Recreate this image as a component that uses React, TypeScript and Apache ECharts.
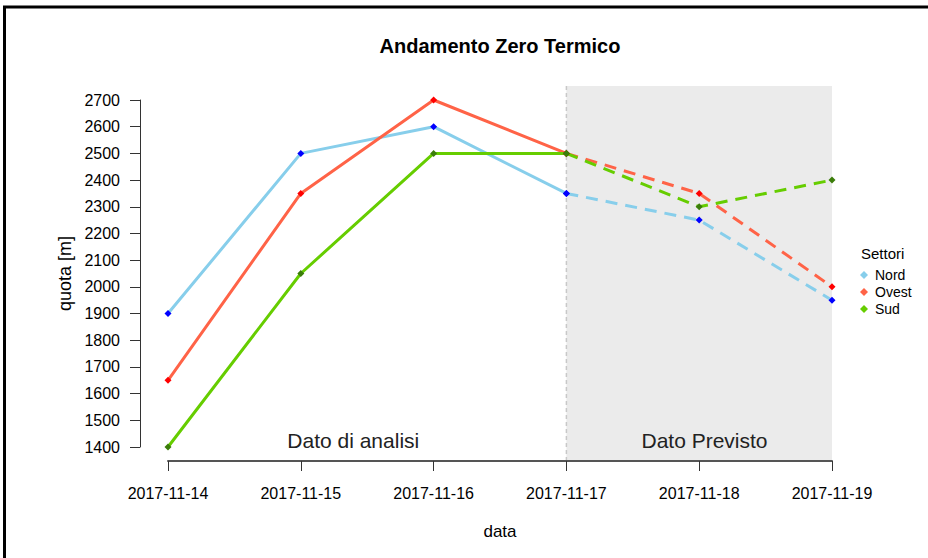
import React, { useEffect, useRef } from "react";
import * as echarts from "echarts";

const dates = ["2017-11-14", "2017-11-15", "2017-11-16", "2017-11-17", "2017-11-18", "2017-11-19"];
const nord = [1900, 2500, 2600, 2350, 2250, 1950];
const ovest = [1650, 2350, 2700, 2500, 2350, 2000];
const sud = [1400, 2050, 2500, 2500, 2300, 2400];
const forecastStart = 3; // index of 2017-11-17
const sectors = [
  { name: "Nord", values: nord, line: "#87CEEB", point: "#0000FF" },
  { name: "Ovest", values: ovest, line: "#FF6347", point: "#FF0000" },
  { name: "Sud", values: sud, line: "#66CD00", point: "#3B7D0A" },
];

const FONT = "'Liberation Sans', Arial, sans-serif";

export default function App() {
  const ref = useRef<HTMLDivElement>(null);
  useEffect(() => {
    document.body.style.margin = "0";
    const chart = echarts.init(ref.current!, null, { renderer: "svg" });
    const series: any[] = [];
    sectors.forEach((s) => {
      series.push({
        name: s.name,
        type: "line",
        data: s.values.map((v, i) => (i <= forecastStart ? v : null)),
        symbol: "diamond",
        symbolSize: 7,
        showSymbol: true,
        itemStyle: { color: s.point },
        lineStyle: { color: s.line, width: 3 },
        z: 3,
      });
      series.push({
        name: s.name,
        type: "line",
        data: s.values.map((v, i) => (i >= forecastStart ? v : null)),
        symbol: "diamond",
        symbolSize: 7,
        showSymbol: true,
        itemStyle: { color: s.point },
        lineStyle: { color: s.line, width: 3, type: [12, 8] },
        z: 3,
      });
    });
    chart.setOption({
      animation: false,
      backgroundColor: "#fff",
      title: {
        text: "Andamento Zero Termico",
        left: 500,
        textAlign: "center",
        top: 36,
        padding: 0,
        textStyle: { fontFamily: FONT, fontSize: 20, fontWeight: "bold", color: "#000" },
      },
      grid: { left: 168, right: 96, top: 100, bottom: 111 },
      legend: {
        orient: "vertical",
        left: 855,
        top: 263,
        itemWidth: 8,
        itemHeight: 8,
        itemGap: 3,
        textStyle: { fontFamily: FONT, fontSize: 14, color: "#000", padding: [0, 0, 0, 2] },
        data: sectors.map((s) => ({ name: s.name, icon: "diamond", itemStyle: { color: s.line } })),
      },
      xAxis: {
        type: "category",
        data: dates,
        boundaryGap: false,
        offset: 14,
        name: "data",
        nameLocation: "middle",
        nameGap: 62,
        nameTextStyle: { fontFamily: FONT, fontSize: 17, color: "#000" },
        axisLine: { lineStyle: { color: "#555", width: 2 } },
        axisTick: { alignWithLabel: true, length: 10, lineStyle: { color: "#333", width: 1 } },
        axisLabel: { margin: 24, fontFamily: FONT, fontSize: 16, color: "#000" },
        splitLine: { show: false },
      },
      yAxis: {
        type: "value",
        min: 1400,
        max: 2700,
        interval: 100,
        offset: 28,
        name: "quota [m]",
        nameLocation: "middle",
        nameGap: 55,
        nameRotate: 90,
        nameTextStyle: { fontFamily: FONT, fontSize: 18, color: "#000" },
        axisLine: { show: true, lineStyle: { color: "#333", width: 1 } },
        axisTick: { show: true, length: 10, lineStyle: { color: "#333" } },
        axisLabel: {
          margin: 20,
          fontFamily: FONT,
          fontSize: 16,
          color: "#000",
          formatter: (v: number) => String(v),
        },
        splitLine: { show: false },
      },
      series,
    });
    const x1 = chart.convertToPixel({ xAxisIndex: 0 }, dates[forecastStart]) as number;
    const x2 = chart.convertToPixel({ xAxisIndex: 0 }, dates[dates.length - 1]) as number;
    const x0 = chart.convertToPixel({ xAxisIndex: 0 }, dates[0]) as number;
    const top = 86;
    const bottom = 461;
    chart.setOption({
      graphic: [
        {
          type: "rect",
          shape: { x: x1, y: top, width: x2 - x1, height: bottom - top },
          style: { fill: "#EBEBEB" },
          z: -10,
          silent: true,
        },
        {
          type: "line",
          shape: { x1: x1, y1: top, x2: x1, y2: bottom },
          style: { stroke: "#C8C8C8", lineWidth: 1.5, lineDash: [4, 3] },
          z: -9,
          silent: true,
        },
        {
          type: "text",
          x: x0 + (x1 - x0) * 0.465,
          y: 440,
          style: {
            text: "Dato di analisi",
            fontFamily: FONT,
            fontSize: 21,
            fill: "#222",
            align: "center",
            verticalAlign: "middle",
          },
        },
        {
          type: "text",
          x: x1 + (x2 - x1) * 0.52,
          y: 440,
          style: {
            text: "Dato Previsto",
            fontFamily: FONT,
            fontSize: 21,
            fill: "#222",
            align: "center",
            verticalAlign: "middle",
          },
        },
        {
          type: "text",
          x: 861,
          y: 253,
          style: {
            text: "Settori",
            fontFamily: FONT,
            fontSize: 15,
            fill: "#000",
            align: "left",
            verticalAlign: "middle",
          },
        },
        {
          type: "rect",
          shape: { x: 4.5, y: 7, width: 1000, height: 1000 },
          style: { fill: "none", stroke: "#000", lineWidth: 3 },
          silent: true,
        },
      ],
    });
    return () => chart.dispose();
  }, []);
  return <div ref={ref} style={{ width: 928, height: 558 }} />;
}
